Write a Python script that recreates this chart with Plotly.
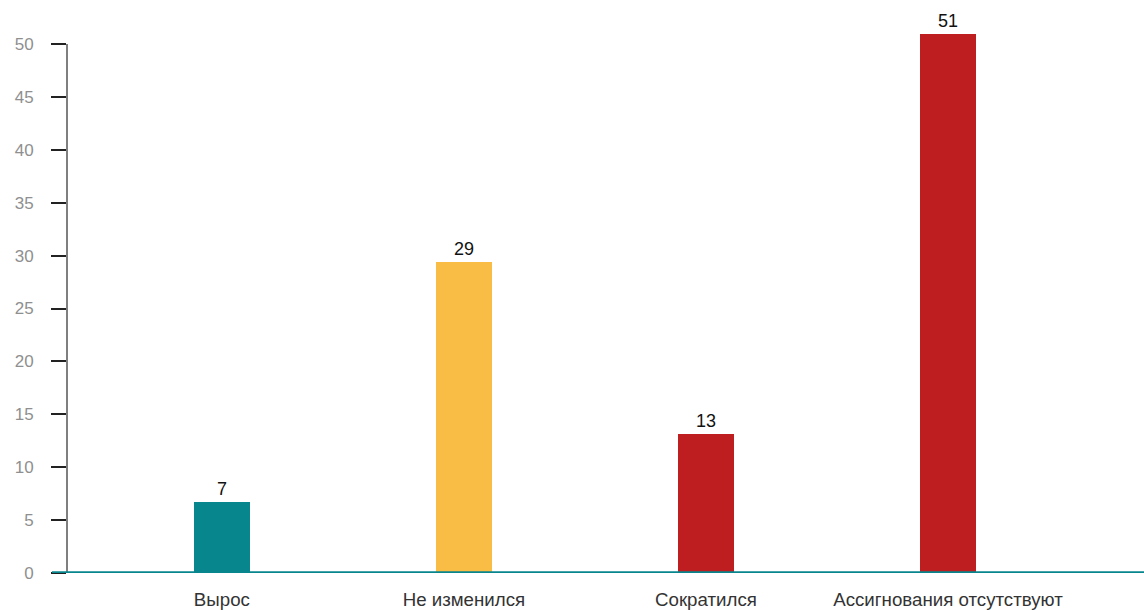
import plotly.graph_objects as go

categories = ["Вырос", "Не изменился", "Сократился", "Ассигнования отсутствуют"]
values = [6.7, 29.4, 13.1, 50.9]
colors = ["#08868E", "#F9BC45", "#BE1E20", "#BE1E20"]
y_ticks = [0, 5, 10, 15, 20, 25, 30, 35, 40, 45, 50]

FONT = "Arial, Liberation Sans, sans-serif"

fig = go.Figure()
fig.add_trace(go.Bar(
    x=list(range(len(categories))), y=values,
    marker=dict(color=colors, line=dict(width=0)),
    width=0.23,
    texttemplate="%{y:.0f}", textposition="outside",
    textfont=dict(size=18, color="#111111", family=FONT),
    cliponaxis=False,
))

fig.update_layout(
    width=1144, height=610,
    margin=dict(l=67, r=0, t=20, b=37),
    plot_bgcolor="white", paper_bgcolor="white",
    font=dict(family=FONT, size=18),
    showlegend=False,
    bargap=0,
    xaxis=dict(
        tickmode="array", tickvals=list(range(len(categories))), ticktext=categories,
        range=[-0.64, 3.81], showgrid=False, zeroline=False, showline=False,
        ticks="outside", ticklen=10, tickcolor="rgba(0,0,0,0)",
        tickfont=dict(size=18.7, color="#333333", family=FONT),
    ),
    yaxis=dict(
        range=[0, 52.27], tickvals=y_ticks, showgrid=False, zeroline=False, showline=False,
        ticks="outside", ticklen=15, tickcolor="#222222", tickwidth=1.5,
        ticklabelstandoff=14,
        tickfont=dict(size=17, color="#8f8f8f", family=FONT),
    ),
    shapes=[
        dict(type="line", xref="paper", yref="y", x0=0, x1=0, y0=0, y1=50,
             line=dict(color="#555555", width=1.5)),
        dict(type="line", xref="paper", yref="y", x0=-15/1077, x1=1, y0=0, y1=0,
             line=dict(color="#08868E", width=3.5)),
    ],
)

fig.write_html("out.html")
